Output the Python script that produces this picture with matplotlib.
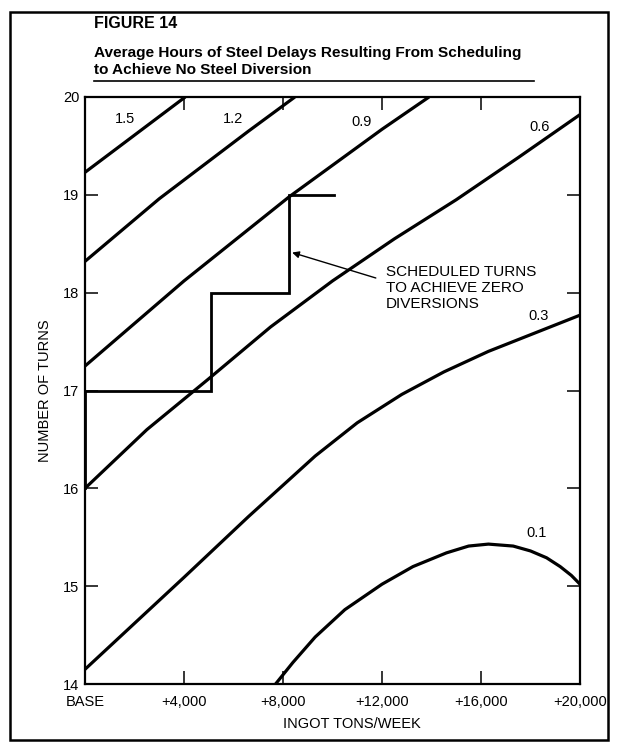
import matplotlib
matplotlib.use('Agg')
import matplotlib.pyplot as plt
from matplotlib.patches import Rectangle
from matplotlib.lines import Line2D

plt.rcParams['font.family'] = ['Liberation Sans', 'DejaVu Sans']

# delay curves (ingot tons/week above base, number of turns)
x15 = [0, 4050]
y15 = [19.23, 20.0]
x12 = [0, 3000, 6600, 8480]
y12 = [18.32, 18.96, 19.65, 20.0]
x09 = [0, 4000, 8250, 12000, 13900]
y09 = [17.25, 18.12, 18.98, 19.67, 20.0]
x06 = [0, 2500, 5000, 7500, 10000, 12500, 15000, 17500, 20000]
y06 = [16.0, 16.6, 17.12, 17.65, 18.12, 18.55, 18.95, 19.38, 19.82]
x03 = [0, 2000, 4000, 6600, 9300, 11000, 12800, 14500, 16300, 18300, 20000]
y03 = [14.15, 14.62, 15.09, 15.71, 16.33, 16.67, 16.96, 17.19, 17.40, 17.6, 17.77]
x01 = [7700, 8400, 9300, 10500, 12000, 13250, 14600, 15500, 16300, 17300, 18000, 18650, 19200, 19650, 20000]
y01 = [14.0, 14.22, 14.48, 14.76, 15.02, 15.2, 15.34, 15.41, 15.43, 15.41, 15.36, 15.29, 15.2, 15.11, 15.02]

# scheduled turns step line
step_x = [0, 0, 5100, 5100, 8250, 8250, 10050]
step_y = [16, 17, 17, 18, 18, 19, 19]

curve_labels = ['1.5', '1.2', '0.9', '0.6', '0.3', '0.1']
label_x = [1620, 5980, 11190, 18380, 18340, 18260]
label_y = [19.78, 19.78, 19.74, 19.69, 17.76, 15.54]

xticks = [0, 4000, 8000, 12000, 16000, 20000]
xtick_labels = ['BASE', '+4,000', '+8,000', '+12,000', '+16,000', '+20,000']
yticks = [14, 15, 16, 17, 18, 19, 20]

fig = plt.figure(figsize=(6.2, 7.45), dpi=100)
ax = fig.add_axes([85/620, 1-684/745, 495/620, 587/745])

for xs, ys in [(x15, y15), (x12, y12), (x09, y09), (x06, y06), (x03, y03), (x01, y01)]:
    ax.plot(xs, ys, color='black', lw=2.3, solid_capstyle='butt', solid_joinstyle='round')
ax.plot(step_x, step_y, color='black', lw=2.0, solid_joinstyle='miter')

for t, lx, ly in zip(curve_labels, label_x, label_y):
    ax.text(lx, ly, t, fontsize=10.5, ha='center', va='center')

ax.text(12150, 18.28, 'SCHEDULED TURNS\nTO ACHIEVE ZERO\nDIVERSIONS',
        fontsize=11, ha='left', va='top', linespacing=1.15)
ax.annotate('', xy=(8370, 18.41), xytext=(11750, 18.15),
            arrowprops=dict(arrowstyle='-|>', color='black', lw=1.0,
                            mutation_scale=10, shrinkA=0, shrinkB=0))

ax.set_xlim(0, 20000)
ax.set_ylim(14, 20)
ax.set_xticks(xticks)
ax.set_xticklabels(xtick_labels)
ax.set_yticks(yticks)
ax.set_yticklabels([str(v) for v in yticks])
ax.tick_params(direction='in', length=9.5, width=1.1, labelsize=10.5,
               top=True, right=True)
ax.tick_params(axis='x', pad=8)
ax.tick_params(axis='y', pad=4)
for s in ax.spines.values():
    s.set_linewidth(1.6)

ax.set_ylabel('NUMBER OF TURNS', fontsize=10.5, labelpad=8)
fig.text(352/620, 1-724/745, 'INGOT TONS/WEEK', fontsize=10.5, ha='center', va='center')

fig.text(94/620, 1-23/745, 'FIGURE 14', fontsize=11.5, fontweight='bold', ha='left', va='center')
fig.text(94/620, 1-53/745, 'Average Hours of Steel Delays Resulting From Scheduling',
         fontsize=11.1, fontweight='bold', ha='left', va='center')
fig.text(94/620, 1-70/745, 'to Achieve No Steel Diversion',
         fontsize=11.1, fontweight='bold', ha='left', va='center')
fig.add_artist(Line2D([94/620, 534/620], [1-81/745, 1-81/745], color='black', lw=1.2))

fig.add_artist(Rectangle((10/620, 5/745), 598/620, 728/745, fill=False,
                         edgecolor='black', lw=1.8))

fig.savefig('out.png', dpi=100)
